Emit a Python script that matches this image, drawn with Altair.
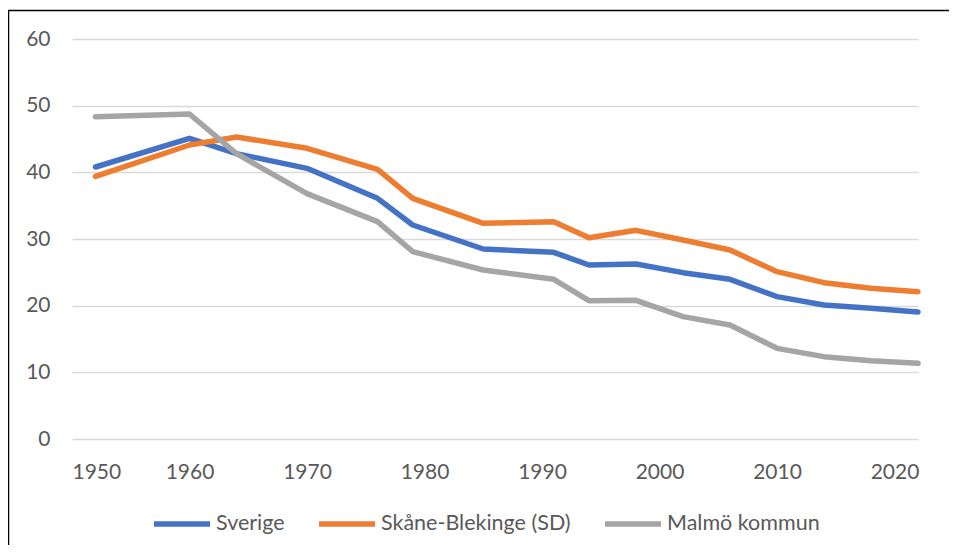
import altair as alt
import pandas as pd

years = [1952, 1960, 1964, 1970, 1976, 1979, 1985, 1991, 1994, 1998, 2002, 2006, 2010, 2014, 2018, 2022]
sverige = [40.8, 45.1, 42.8, 40.6, 36.1, 32.1, 28.5, 28.0, 26.1, 26.25, 24.95, 23.95, 21.35, 20.1, 19.6, 19.05]
skane = [39.4, 44.1, 45.3, 43.6, 40.45, 36.1, 32.35, 32.6, 30.2, 31.3, 29.85, 28.35, 25.1, 23.45, 22.6, 22.1]
malmo = [48.35, 48.75, 42.8, 36.8, 32.6, 28.1, 25.35, 23.95, 20.75, 20.8, 18.35, 17.1, 13.6, 12.35, 11.75, 11.35]

series_names = ["Sverige", "Skåne-Blekinge (SD)", "Malmö kommun"]
series_colors = ["#4472C4", "#ED7D31", "#A5A5A5"]
x_ticks = [1950, 1960, 1970, 1980, 1990, 2000, 2010, 2020]
y_ticks = [0, 10, 20, 30, 40, 50, 60]

rows = []
for name, vals in zip(series_names, [sverige, skane, malmo]):
    for yr, v in zip(years, vals):
        rows.append({"year": yr, "value": v, "series": name})
df = pd.DataFrame(rows)

FONT = "Lato"
TXT = "#595959"

lines = alt.Chart(df).mark_line(strokeWidth=5.5, strokeCap="round", strokeJoin="round").encode(
    x=alt.X("year:Q", scale=alt.Scale(domain=[1950, 2022], nice=False, zero=False),
            axis=alt.Axis(values=x_ticks, format="d", grid=False, domain=False, ticks=False,
                          labelPadding=22, title=None)),
    y=alt.Y("value:Q", scale=alt.Scale(domain=[0, 60], nice=False),
            axis=alt.Axis(values=y_ticks, grid=True, domain=False, ticks=False,
                          labelPadding=22, title=None)),
    color=alt.Color("series:N", sort=series_names,
                    scale=alt.Scale(domain=series_names, range=series_colors),
                    legend=alt.Legend(orient="none", direction="horizontal", legendX=79, legendY=454,
                                      title=None, symbolType="stroke", symbolSize=3136,
                                      symbolStrokeWidth=5.5, labelOffset=3, columnPadding=23,
                                      labelLimit=0)),
)

frame_top = alt.Chart(alt.Data(values=[{}])).mark_rule(color="black", strokeWidth=1.5).encode(
    x=alt.value(-64), x2=alt.value(900), y=alt.value(-28.5)
)
frame_left = alt.Chart(alt.Data(values=[{}])).mark_rule(color="black", strokeWidth=1.5).encode(
    x=alt.value(-63.5), y=alt.value(-29), y2=alt.value(520)
)

chart = alt.layer(lines, frame_top, frame_left).properties(
    width=846, height=400,
    autosize=alt.AutoSizeParams(type="none"),
    padding={"left": 64, "top": 31, "right": 31, "bottom": 106},
).configure_view(stroke=None).configure_axis(
    labelFont=FONT, labelFontSize=21, labelColor=TXT, gridColor="#D9D9D9", gridWidth=1.5
).configure_legend(
    labelFont=FONT, labelFontSize=21.5, labelColor=TXT, labelLimit=0
)

chart.save("out.html", embed_options={"renderer": "svg", "actions": False})
